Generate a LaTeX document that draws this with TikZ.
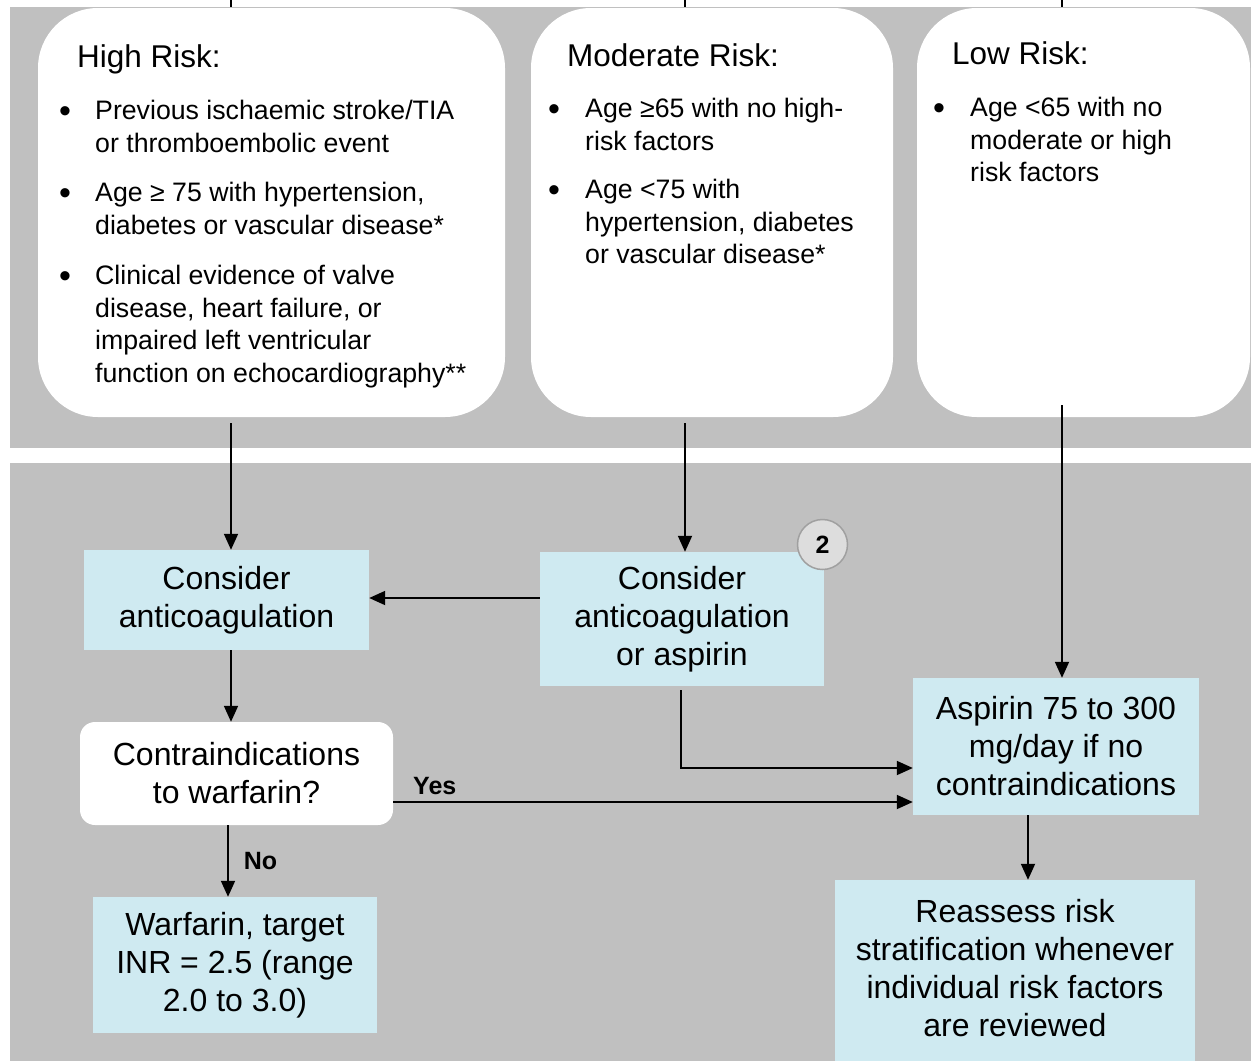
\documentclass[tikz,border=0pt]{standalone}
\usepackage{fontspec}
\setmainfont{Liberation Sans}
\usetikzlibrary{arrows.meta,calc}
\definecolor{panelgray}{RGB}{192,192,192}
\definecolor{boxblue}{RGB}{207,234,241}
\definecolor{circfill}{RGB}{221,221,221}
\definecolor{circline}{RGB}{160,160,160}
\begin{document}
\begin{tikzpicture}[x=1pt,y=-1pt,
  riskbox/.style={fill=white, draw=none, rounded corners=60pt, inner sep=0pt},
  head/.style={anchor=base west, inner sep=0pt, font=\fontsize{31.5}{38}\selectfont},
  bul/.style={inner sep=0pt, font=\fontsize{34}{40}\selectfont},
  item/.style={anchor=north west, inner sep=0pt, align=left, font=\fontsize{26.7}{32.5}\selectfont},
  bluebox/.style={fill=boxblue, draw=none, inner sep=0pt, align=center, font=\fontsize{32}{38}\selectfont},
  whitebox/.style={fill=white, draw=none, rounded corners=15pt, inner sep=0pt, align=center, font=\fontsize{32}{38}\selectfont},
  numcirc/.style={circle, fill=circfill, draw=circline, line width=1.5pt, minimum size=50pt, inner sep=0pt, font=\bfseries\fontsize{25}{30}\selectfont},
  arr/.style={draw=black, line width=1.8pt, -{Triangle[length=16pt,width=14pt]}},
  plain/.style={draw=black, line width=1.8pt},
  lbl/.style={inner sep=0pt, font=\bfseries\fontsize{25}{30}\selectfont}
]
\useasboundingbox (0,0) rectangle (1251,1061);
% panels
\fill[panelgray] (10,7) rectangle (1251,448);
\fill[panelgray] (10,463) rectangle (1251,1061);

% top ticks
\coordinate (t1a) at (231,0); \coordinate (t1b) at (231,7);
\coordinate (t2a) at (685,0); \coordinate (t2b) at (685,7);
\coordinate (t3a) at (1062,0); \coordinate (t3b) at (1062,7);
\draw[plain] (t1a) -- (t1b);
\draw[plain] (t2a) -- (t2b);
\draw[plain] (t3a) -- (t3b);

% risk boxes
\node[riskbox, minimum width=467pt, minimum height=409pt] (hr) at (271.5,212.5) {};
\node[riskbox, minimum width=362pt, minimum height=409pt] (mr) at (712,212.5) {};
\node[riskbox, minimum width=333pt, minimum height=409pt] (lr) at (1083.5,212.5) {};

% High risk text
\node[head] (hrh) at (77,67) {High Risk:};
\node[bul] (hb1) at (65,115) {•};
\node[item] (hi1) at (95,100) {Previous ischaemic stroke/TIA\\or thromboembolic event};
\node[bul] (hb2) at (65,197) {•};
\node[item] (hi2) at (95,182) {Age ≥ 75 with hypertension,\\diabetes or vascular disease*};
\node[bul] (hb3) at (65,280) {•};
\node[item] (hi3) at (95,265) {Clinical evidence of valve\\disease, heart failure, or\\impaired left ventricular\\function on echocardiography**};

% Moderate risk text
\node[head] (mrh) at (567,66) {Moderate Risk:};
\node[bul] (mb1) at (554,113) {•};
\node[item] (mi1) at (585,98) {Age ≥65 with no high-\\risk factors};
\node[bul] (mb2) at (554,194) {•};
\node[item] (mi2) at (585,179) {Age <75 with\\hypertension, diabetes\\or vascular disease*};

% Low risk text
\node[head] (lrh) at (952,64) {Low Risk:};
\node[bul] (lb1) at (939,112) {•};
\node[item] (li1) at (970,97) {Age <65 with no\\moderate or high\\risk factors};

% lower boxes
\node[bluebox, minimum width=285pt, minimum height=100pt] (ca) at (226.5,600) {Consider\\anticoagulation};
\node[bluebox, minimum width=284pt, minimum height=134pt] (cao) at (682,619) {Consider\\anticoagulation\\or aspirin};
\node[numcirc] (n2) at (822.5,544.5) {2};
\node[whitebox, minimum width=313pt, minimum height=103pt] (ci) at (236.5,773.5) {Contraindications\\to warfarin?};
\node[bluebox, minimum width=286pt, minimum height=137pt] (asp) at (1056,746.5) {Aspirin 75 to 300\\mg/day if no\\contraindications};
\node[bluebox, minimum width=284pt, minimum height=136pt] (war) at (235,965) {Warfarin, target\\INR = 2.5 (range\\2.0 to 3.0)};
\node[bluebox, minimum width=360pt, minimum height=181pt, text depth=6pt] (rea) at (1015,970.5) {Reassess risk\\stratification whenever\\individual risk factors\\are reviewed};

% connectors
\coordinate (hstart) at (231,423);
\coordinate (mstart) at (685,423);
\coordinate (lstart) at (1062,405);
\draw[arr] (hstart) -- (hstart |- ca.north);
\draw[arr] (mstart) -- (mstart |- cao.north);
\draw[arr] (lstart) -- (lstart |- asp.north);
\draw[arr] (cao.west |- 0,598) -- (ca.east |- 0,598);
\coordinate (cstart) at (681,690);
\draw[arr] (cstart) |- (asp.west |- 0,768);
\coordinate (castart) at (231,650);
\draw[arr] (castart) -- (castart |- ci.north);
\draw[arr] (ci.east |- 0,802) -- node[lbl, pos=0.08, above=6pt] (yes) {Yes} (asp.west |- 0,802);
\coordinate (nostart) at (228,825);
\draw[arr] (nostart) -- node[lbl, right=15pt, pos=0.5] (no) {No} (nostart |- war.north);
\coordinate (astart) at (1028,815);
\draw[arr] (astart) -- (astart |- rea.north);
\end{tikzpicture}
\end{document}
